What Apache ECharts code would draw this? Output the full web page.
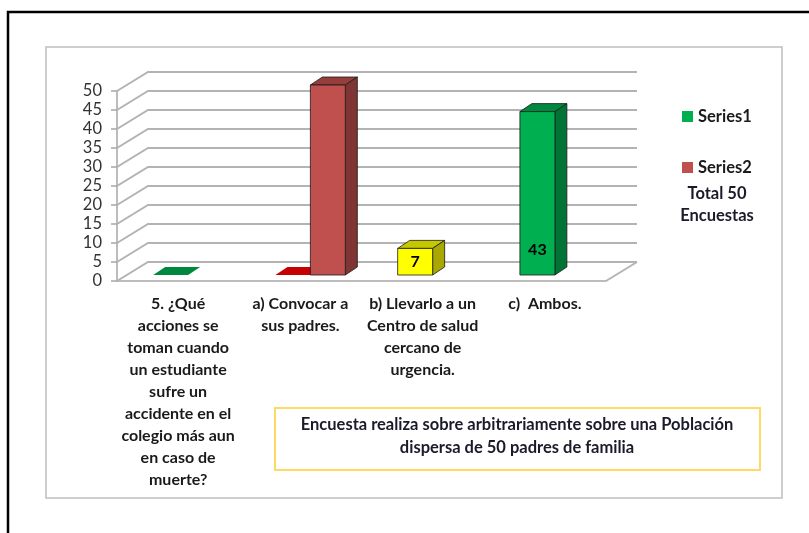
<!DOCTYPE html>
<html>
<head>
<meta charset="utf-8">
<script src="https://cdn.jsdelivr.net/npm/echarts@6/dist/echarts.min.js"></script>
<style>
  html, body { margin: 0; padding: 0; background: #fff; }
  #chart { width: 809px; height: 533px; }
</style>
</head>
<body>
<div id="chart"></div>
<script>
const categories = [
  '5. ¿Qué\nacciones se\ntoman cuando\nun estudiante\nsufre un\naccidente en el\ncolegio más aun\nen caso de\nmuerte?',
  'a) Convocar a\nsus padres.',
  'b) Llevarlo a un\nCentro de salud\ncercano de\nurgencia.',
  'c)  Ambos.'
]
const series1 = [0, 0, 7, 43]
const series2 = [null, 50, null, null]
const yTicks = [0, 5, 10, 15, 20, 25, 30, 35, 40, 45, 50]
const noteLines = [
  'Encuesta realiza sobre arbitrariamente sobre una Población',
  'dispersa de 50 padres de familia'
]
const totalLines = ['Total 50', 'Encuestas']

// styles
const series1Colors = ['#00b050', '#ff0000', '#ffff00', '#00b050']
const series2Color = '#c0504d'
const WALL_DX = 31, WALL_DY = 19     // depth of the back wall
const FACE_DX = 10, FACE_DY = 6      // bar front face offset
const BAR_DX = 12, BAR_DY = 8        // bar depth
const BAR_FRAC = 0.286
const FONT = 'Lato'

function shade(hex, f) {
  const n = parseInt(hex.slice(1), 16)
  const r = Math.round(((n >> 16) & 255) * f)
  const g = Math.round(((n >> 8) & 255) * f)
  const b = Math.round((n & 255) * f)
  return 'rgb(' + r + ',' + g + ',' + b + ')'
}

function wallItem(params, api) {
  const cs = params.coordSys
  const v = api.value(1)
  const y = api.coord([0, v])[1]
  const x0 = cs.x, x1 = cs.x + cs.width
  const lineStyle = { stroke: '#b3b3b3', lineWidth: 2, fill: null }
  const children = [{
    type: 'polyline',
    shape: { points: [[x0, y], [x0 + WALL_DX, y - WALL_DY], [x1 + WALL_DX, y - WALL_DY]] },
    style: lineStyle
  }]
  if (v === 0) {
    children.push({
      type: 'line',
      shape: { x1: x1, y1: y, x2: x1 + WALL_DX, y2: y - WALL_DY },
      style: lineStyle
    })
  }
  return { type: 'group', children: children }
}

function barItem(offsetFrac, colorOf, withLabel) {
  return function(params, api) {
    const ci = api.value(0)
    const v = api.value(1)
    if (v == null || isNaN(v)) return
    const base = api.coord([ci, 0])
    const top = api.coord([ci, v])
    const band = api.size([1, 0])[0]
    const w = band * BAR_FRAC
    const xl = base[0] + band * offsetFrac - w / 2 + FACE_DX
    const xr = xl + w
    const yb = base[1] - FACE_DY
    const yt = top[1] - FACE_DY
    const h = yb - yt
    const c = colorOf(ci)
    const edge = h > 0 ? { stroke: '#1a1a1a', lineWidth: 0.8 } : { stroke: null }
    const children = [
      {
        type: 'polygon',
        shape: { points: [[xl, yt], [xr, yt], [xr + BAR_DX, yt - BAR_DY], [xl + BAR_DX, yt - BAR_DY]] },
        style: Object.assign({ fill: shade(c, 0.78) }, edge)
      }
    ]
    if (h > 0) {
      children.push({
        type: 'polygon',
        shape: { points: [[xr, yt], [xr + BAR_DX, yt - BAR_DY], [xr + BAR_DX, yb - BAR_DY], [xr, yb]] },
        style: Object.assign({ fill: shade(c, 0.66) }, edge)
      })
      children.push({
        type: 'rect',
        shape: { x: xl, y: yt, width: w, height: h },
        style: Object.assign({ fill: c }, edge)
      })
      if (withLabel) {
        children.push({
          type: 'text',
          style: {
            text: String(v),
            x: (xl + xr) / 2,
            y: yb - Math.min(h / 2, 25),
            align: 'center',
            verticalAlign: 'middle',
            font: 'bold 16px ' + FONT,
            fill: '#000'
          }
        })
      }
    }
    return { type: 'group', children: children }
  }
}

const chart = echarts.init(document.getElementById('chart'))

const option = {
  animation: false,
  textStyle: { fontFamily: FONT },
  grid: { left: 117, right: 203, top: 91, bottom: 252, outerBoundsMode: 'none' },
  legend: {
    data: ['Series1', 'Series2'],
    orient: 'vertical',
    left: 677,
    top: 103,
    itemWidth: 11,
    itemHeight: 11,
    itemGap: 34,
    icon: 'rect',
    selectedMode: false,
    textStyle: { fontSize: 16.5, fontWeight: 'bold', color: '#1a1a1a', lineHeight: 17, fontFamily: FONT }
  },
  xAxis: {
    type: 'category',
    data: categories,
    axisLine: { lineStyle: { color: '#a6a6a6', width: 1.5 } },
    axisTick: { length: 6, lineStyle: { color: '#a6a6a6', width: 1.5 } },
    axisLabel: {
      interval: 0,
      margin: 12,
      fontSize: 16,
      fontWeight: 'bold',
      lineHeight: 22,
      color: '#1a1a1a',
      fontFamily: FONT
    },
    splitLine: { show: false }
  },
  yAxis: {
    type: 'value',
    min: 0,
    max: 50,
    interval: 5,
    axisLine: { show: true, lineStyle: { color: '#a6a6a6', width: 1.5 } },
    axisTick: { show: true, length: 6, lineStyle: { color: '#a6a6a6', width: 1.5 } },
    axisLabel: { margin: 15, fontSize: 16.5, color: '#333', fontFamily: FONT },
    splitLine: { show: false }
  },
  graphic: [
    {
      type: 'polyline', z: -10,
      shape: { points: [[8, 533], [8, 12], [809, 12]] },
      style: { stroke: '#000', lineWidth: 2.5, fill: null }
    },
    {
      type: 'rect', z: -9,
      shape: { x: 46, y: 47, width: 736, height: 451 },
      style: { stroke: '#bfbfbf', lineWidth: 1.5, fill: '#fff' }
    },
    {
      type: 'rect', z: 10,
      shape: { x: 275, y: 408, width: 485, height: 62 },
      style: { stroke: '#ffd966', lineWidth: 2, fill: '#fff' }
    },
    {
      type: 'text', z: 11,
      style: {
        text: noteLines.join('\n'),
        x: 517, y: 436,
        align: 'center', verticalAlign: 'middle',
        font: 'bold 16.5px ' + FONT,
        lineHeight: 23,
        fill: '#1a1a2a'
      }
    },
    {
      type: 'text', z: 11,
      style: {
        text: totalLines.join('\n'),
        x: 717, y: 205,
        align: 'center', verticalAlign: 'middle',
        font: 'bold 16.5px ' + FONT,
        lineHeight: 22,
        fill: '#1a1a2a'
      }
    }
  ],
  series: [
    {
      type: 'custom',
      name: 'wall',
      z: 1,
      silent: true,
      renderItem: wallItem,
      data: yTicks.map(v => [0, v])
    },
    {
      type: 'custom',
      name: 'Series1',
      z: 3,
      itemStyle: { color: '#00b050' },
      renderItem: barItem(-0.143, i => series1Colors[i], true),
      data: series1.map((v, i) => [i, v])
    },
    {
      type: 'custom',
      name: 'Series2',
      z: 3,
      itemStyle: { color: series2Color },
      renderItem: barItem(0.143, () => series2Color, false),
      data: series2.map((v, i) => [i, v])
    }
  ]
}

chart.setOption(option)
</script>
</body>
</html>
